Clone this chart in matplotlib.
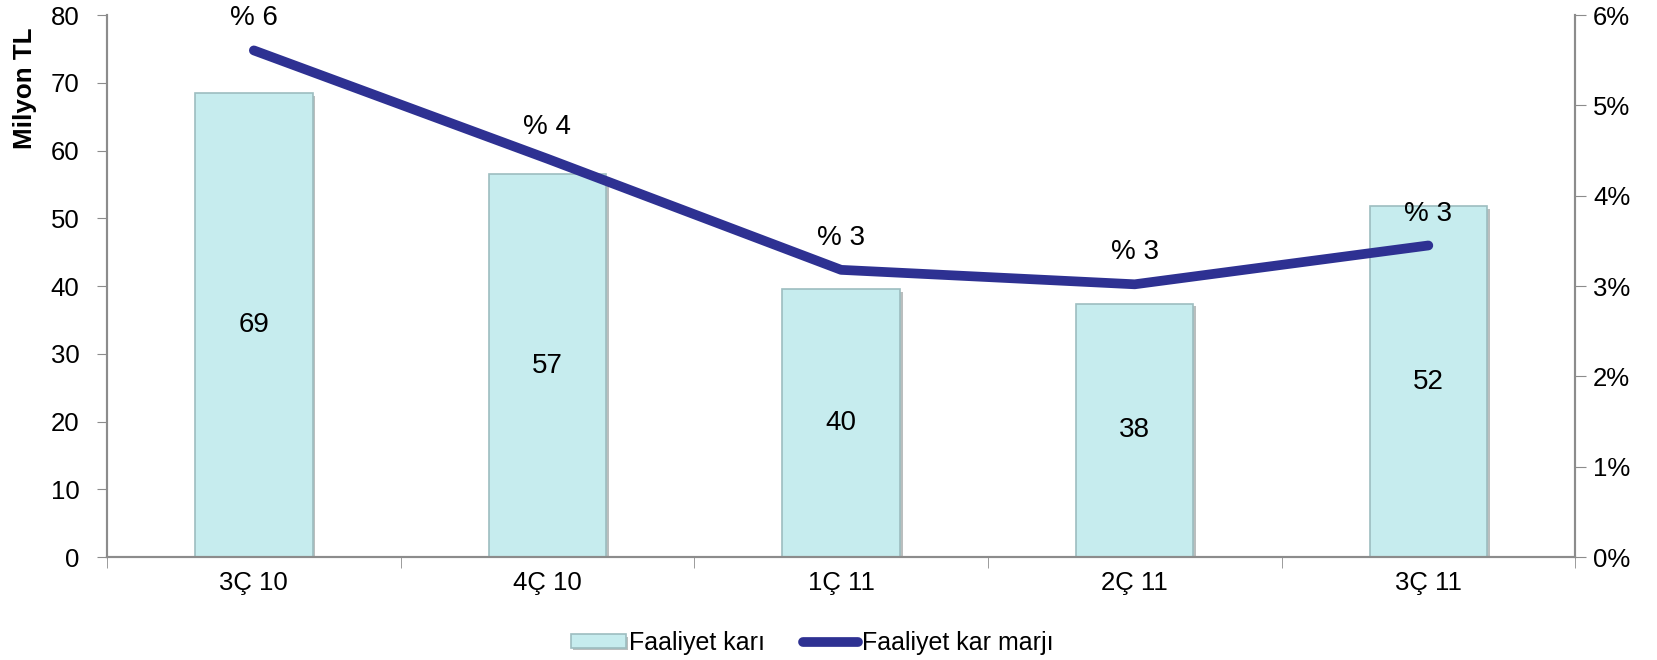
import numpy as np
import matplotlib.pyplot as plt
import matplotlib.patheffects as pe
from matplotlib.ticker import FuncFormatter

plt.rcParams['font.family'] = ['Liberation Sans', 'DejaVu Sans']

# veriler
quarters = ['3Ç 10', '4Ç 10', '1Ç 11', '2Ç 11', '3Ç 11']
faaliyet_kari = [68.5, 56.5, 39.5, 37.4, 51.8]          # milyon TL
faaliyet_label = [69, 57, 40, 38, 52]
kar_marji = [0.0561, 0.0441, 0.0318, 0.0302, 0.0345]     # oran

fig = plt.figure(figsize=(16.57, 6.6), dpi=100)
ax = fig.add_axes([0.0646, 0.156, 0.886, 0.821])
ax2 = ax.twinx()

x = np.arange(len(quarters))
grey = '#8C8C8C'

bars = ax.bar(x, faaliyet_kari, width=0.4, color='#C6ECEE', edgecolor='#9DBDC0',
              linewidth=1.2, zorder=2,
              path_effects=[pe.SimplePatchShadow(offset=(2, -2), alpha=0.35), pe.Normal()])
for xi, h, lab in zip(x, faaliyet_kari, faaliyet_label):
    ax.text(xi, h / 2, str(lab), ha='center', va='center', fontsize=20, zorder=5)

ax.set_xlim(-0.5, len(quarters) - 0.5)
ax.set_ylim(0, 80)
ax.set_yticks(range(0, 81, 10))
ax.set_xticks(x)
ax.set_xticklabels(quarters, fontsize=18.5)
ax.set_xticks(np.arange(-0.5, len(quarters), 1), minor=True)
ax.tick_params(axis='x', which='major', length=0, pad=10)
ax.tick_params(axis='x', which='minor', length=8, color=grey, direction='out')
ax.tick_params(axis='y', labelsize=18.5, length=7, color=grey, direction='out', pad=13)

ax2.plot(x, kar_marji, color='#2E3192', linewidth=7, solid_capstyle='round', zorder=4)
for xi, v in zip(x, kar_marji):
    ax2.annotate('% {}'.format(int(round(v * 100))), (xi, v), xytext=(0, 23),
                 textcoords='offset points', ha='center', va='center', fontsize=20)
ax2.set_ylim(0, 0.06)
ax2.set_yticks(np.arange(0, 0.061, 0.01))
ax2.yaxis.set_major_formatter(FuncFormatter(lambda v, p: '{:.0f}%'.format(v * 100)))
ax2.tick_params(axis='y', labelsize=18.5, length=8, color=grey, direction='out', pad=5)

for a in (ax, ax2):
    a.spines['top'].set_visible(False)
    for s in ('left', 'right', 'bottom'):
        a.spines[s].set_color(grey)
        a.spines[s].set_linewidth(1.5)

fig.text(0.008, 0.958, 'Milyon TL', rotation=90, ha='left', va='top',
         fontsize=18.7, fontweight='bold')

handles = [bars, ax2.get_lines()[0]]
fig.legend(handles, ['Faaliyet karı', 'Faaliyet kar marjı'], loc='center',
           bbox_to_anchor=(0.49, 0.026), ncol=2, frameon=False, fontsize=18,
           handlelength=2.2, handleheight=0.45, handletextpad=0.15, columnspacing=1.5)

fig.savefig('out.png', dpi=100)
